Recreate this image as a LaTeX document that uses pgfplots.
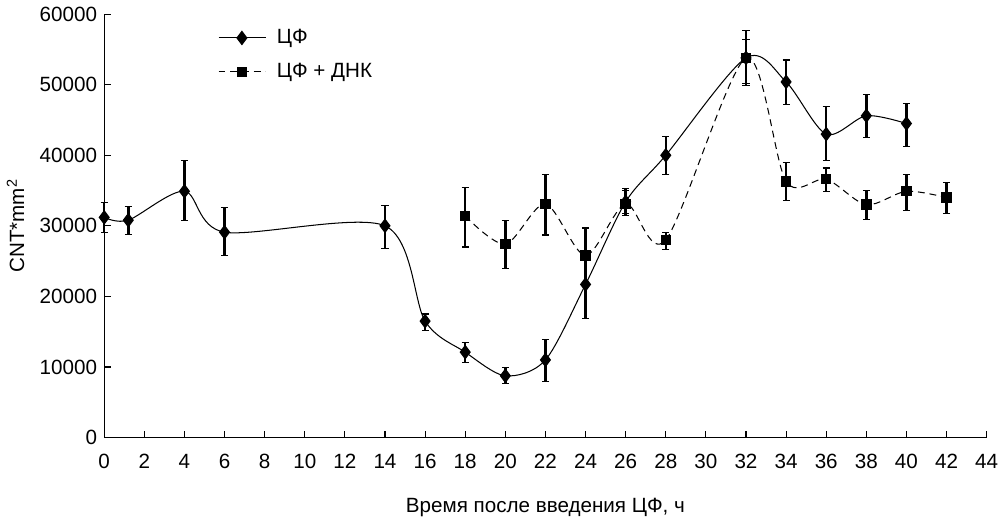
\documentclass[border=0pt]{standalone}
\usepackage{pgfplots}
\pgfplotsset{compat=1.18}
\usepackage{fontspec}
\setmainfont{Liberation Sans}
\begin{document}
\fontsize{15pt}{17pt}\selectfont
\begin{tikzpicture}
\begin{axis}[
 width=642pt, height=308pt, scale only axis,
 xmin=0, xmax=44, ymin=0, ymax=60000,
 axis lines=left, axis line style={-, line width=0.9pt},
 tick align=inside, major tick length=5pt, tick style={line width=0.8pt, black},
 xtick={0,2,...,44}, ytick={0,10000,...,60000},
 scaled y ticks=false,
 /pgf/number format/1000 sep={},
 /pgf/number format/assume math mode=true,
 ticklabel style={font=\fontsize{15pt}{17pt}\selectfont},
 label style={font=\fontsize{15pt}{17pt}\selectfont},
 xticklabel style={yshift=-7pt},
 xlabel={Время после введения ЦФ, ч},
 xlabel style={yshift=-11pt},
 ylabel={CNT*mm\textsuperscript{2}},
 ylabel style={yshift=1pt},
 legend style={draw=none, fill=none, at={(0.124,0.978)}, anchor=north west, row sep=8pt,
   font=\fontsize{15pt}{17pt}\selectfont,
   /tikz/every odd column/.append style={column sep=6pt}},
 legend cell align=left,
 legend image code/.code={\draw[mark repeat=2, mark phase=2, #1] plot coordinates {(0pt,0pt)(17pt,0pt)(34pt,0pt)};},
 clip=false,
]
\addplot[black, line width=0.75pt, smooth, tension=0.5, mark=diamond*, mark size=4.8pt, mark options={solid},
  error bars/.cd, y dir=both, y explicit, error bar style={line width=1.8pt, solid},
  error mark options={rotate=90, mark size=2.6pt, line width=0.8pt}]
coordinates {
(0,31200) += (0,2100) -= (0,2200)
(1.2,30800) += (0,2000) -= (0,2000)
(4,34900) += (0,4300) -= (0,4200)
(6,29100) += (0,3500) -= (0,3300)
(14,30000) += (0,2900) -= (0,3200)
(16,16500) += (0,1000) -= (0,1300)
(18,12100) += (0,1400) -= (0,1500)
(20,8750) += (0,1150) -= (0,1150)
(22,11000) += (0,2900) -= (0,3000)
(24,21700) += (0,4800) -= (0,4800)
(26,33400) += (0,1900) -= (0,1700)
(28,40000) += (0,2700) -= (0,2700)
(32,53800) += (0,3900) -= (0,3900)
(34,50400) += (0,3100) -= (0,3200)
(36,43000) += (0,3900) -= (0,3700)
(38,45600) += (0,3000) -= (0,3100)
(40,44500) += (0,2800) -= (0,3200)
};
\addlegendentry{ЦФ}
\addplot[black, line width=0.75pt, smooth, tension=0.5, dash pattern=on 5pt off 3.5pt, mark=square*, mark size=3.4pt, mark options={solid},
  error bars/.cd, y dir=both, y explicit, error bar style={line width=1.8pt, solid},
  error mark options={rotate=90, mark size=2.6pt, line width=0.8pt, solid}]
coordinates {
(18,31400) += (0,4000) -= (0,4400)
(20,27400) += (0,3300) -= (0,3400)
(22,33100) += (0,4200) -= (0,4400)
(24,25800) += (0,3900) -= (0,3900)
(26,33100) += (0,1900) -= (0,1600)
(28,28000) += (0,1100) -= (0,1300)
(32,53800) += (0,2600) -= (0,3600)
(34,36300) += (0,2700) -= (0,2700)
(36,36600) += (0,1600) -= (0,1700)
(38,33000) += (0,2000) -= (0,2100)
(40,34900) += (0,2400) -= (0,2700)
(42,34000) += (0,2200) -= (0,2200)
};
\addlegendentry{ЦФ + ДНК}
\end{axis}
\end{tikzpicture}
\end{document}
